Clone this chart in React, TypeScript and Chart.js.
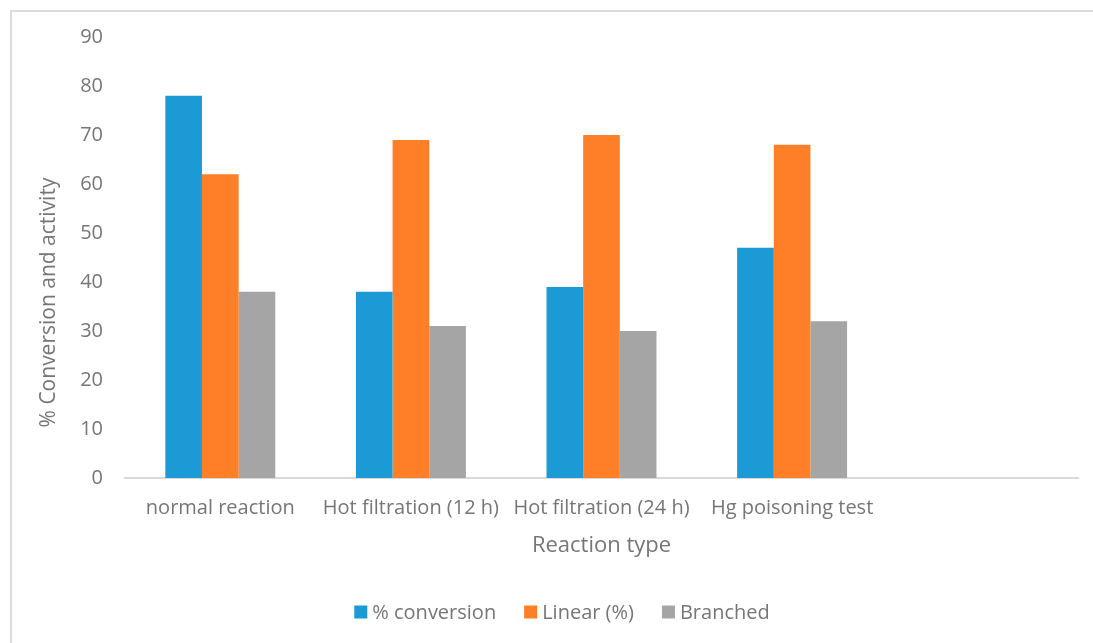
import React, { useEffect, useRef } from "react";
import { Chart, registerables } from "chart.js";

Chart.register(...registerables);

// Reaction types (the fifth slot is an empty category on the axis)
const categories = [
  "normal reaction",
  "Hot filtration (12 h)",
  "Hot filtration (24 h)",
  "Hg poisoning test",
  "",
];

const conversion = [78, 38, 39, 47, null];
const linear = [62, 69, 70, 68, null];
const branched = [38, 31, 30, 32, null];

const yTicks = [0, 10, 20, 30, 40, 50, 60, 70, 80, 90];

const seriesNames = ["% conversion", "Linear (%)", "Branched"];
const seriesColors = ["#1b9ad6", "#fe7f27", "#a5a5a5"];

const TEXT = "#767676";
const FONT = "'Open Sans', 'Noto Sans', sans-serif";

// Frame, axis titles and legend drawn around the plot area
const decorations = {
  id: "decorations",
  beforeDraw(chart: any) {
    const { ctx } = chart;
    ctx.save();
    ctx.fillStyle = "#ffffff";
    ctx.fillRect(0, 0, chart.width, chart.height);
    ctx.fillStyle = "#dcdcdc";
    ctx.fillRect(10, 10, chart.width, 2);
    ctx.fillRect(10, 10, 2, chart.height);
    ctx.restore();
  },
  afterDraw(chart: any) {
    const { ctx, chartArea } = chart;
    ctx.save();
    ctx.fillStyle = TEXT;
    ctx.textAlign = "center";
    ctx.textBaseline = "middle";

    // y-axis title
    ctx.font = `21px ${FONT}`;
    ctx.save();
    ctx.translate(49, (chartArea.top + chartArea.bottom) / 2 + 45);
    ctx.rotate(-Math.PI / 2);
    ctx.fillText("% Conversion and activity", 0, 0);
    ctx.restore();

    // x-axis title
    ctx.font = `22px ${FONT}`;
    ctx.fillText("Reaction type", (chartArea.left + chartArea.right) / 2, 546);

    // legend
    ctx.font = `20px ${FONT}`;
    const box = 13;
    const gap = 5;
    const spacing = 28;
    const widths = seriesNames.map((n) => ctx.measureText(n).width);
    const total =
      widths.reduce((a, w) => a + box + gap + w, 0) + spacing * (seriesNames.length - 1);
    let x = 562 - total / 2;
    const y = 612;
    ctx.textAlign = "left";
    seriesNames.forEach((name, i) => {
      ctx.fillStyle = seriesColors[i];
      ctx.fillRect(x, y - box / 2, box, box);
      x += box + gap;
      ctx.fillStyle = TEXT;
      ctx.fillText(name, x, y + 1);
      x += widths[i] + spacing;
    });
    ctx.restore();
  },
};

export default function App() {
  const canvasRef = useRef<HTMLCanvasElement | null>(null);

  useEffect(() => {
    document.body.style.margin = "0";
    document.body.style.overflow = "hidden";
    const canvas = canvasRef.current;
    if (!canvas) return;
    const datasets = [conversion, linear, branched].map((data, i) => ({
      label: seriesNames[i],
      data,
      backgroundColor: seriesColors[i],
      borderWidth: 0,
      categoryPercentage: 0.577,
      barPercentage: 1.0,
    }));
    const chart = new Chart(canvas, {
      type: "bar",
      data: { labels: categories, datasets },
      options: {
        animation: false,
        responsive: false,
        maintainAspectRatio: false,
        devicePixelRatio: 1,
        layout: { padding: { top: 37, right: 15, left: 0, bottom: 0 } },
        plugins: {
          legend: { display: false },
          tooltip: { enabled: false },
        },
        scales: {
          x: {
            grid: { display: false, drawTicks: false },
            border: { display: true, color: "#d9d9d9", width: 2 },
            ticks: {
              color: TEXT,
              font: { family: FONT, size: 20 },
              padding: 18,
              maxRotation: 0,
              autoSkip: false,
            },
            afterFit(scale: any) {
              scale.height = 165;
            },
          },
          y: {
            min: 0,
            max: 90,
            afterBuildTicks(scale: any) {
              scale.ticks = yTicks.map((v) => ({ value: v }));
            },
            grid: { display: false, drawTicks: false },
            border: { display: false },
            ticks: {
              color: TEXT,
              font: { family: FONT, size: 20 },
              padding: 22,
            },
            afterFit(scale: any) {
              scale.width = 125;
            },
          },
        },
      },
      plugins: [decorations],
    });
    return () => chart.destroy();
  }, []);

  return (
    <canvas
      ref={canvasRef}
      width={1093}
      height={643}
      style={{ display: "block", width: 1093, height: 643 }}
    />
  );
}
